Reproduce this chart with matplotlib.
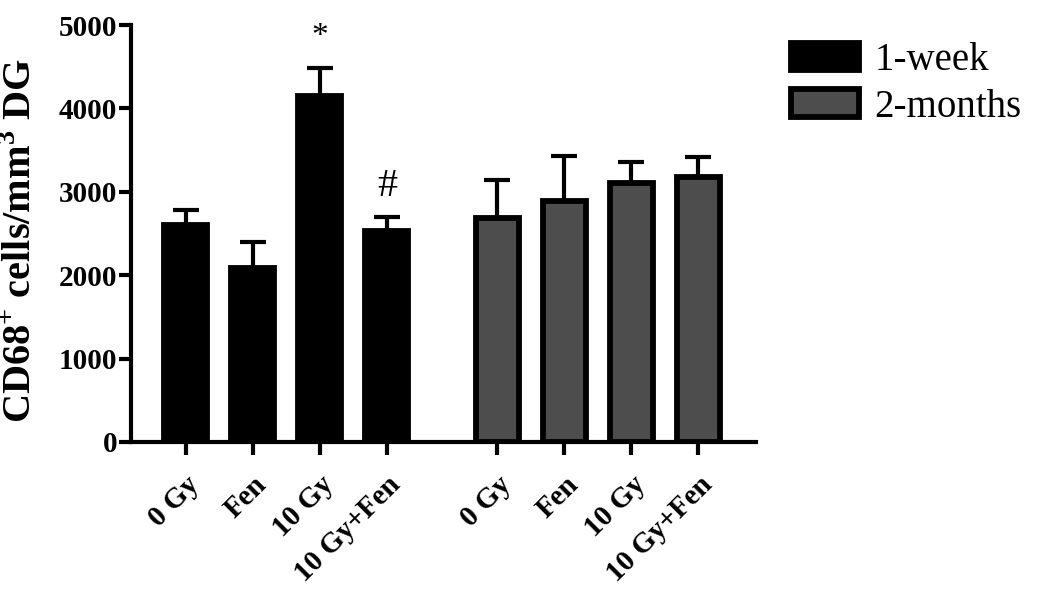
import numpy as np
import matplotlib.pyplot as plt

plt.rcParams['font.family'] = ['Liberation Serif', 'DejaVu Serif']
plt.rcParams['mathtext.fontset'] = 'custom'
plt.rcParams['mathtext.rm'] = 'Liberation Serif'
plt.rcParams['mathtext.bf'] = 'Liberation Serif:bold'

groups = ['0 Gy', 'Fen', '10 Gy', '10 Gy+Fen']
week_mean = [2600, 2090, 4150, 2530]
week_err = [185, 310, 335, 170]
month_mean = [2690, 2890, 3100, 3180]
month_err = [450, 540, 255, 240]
marks = ['', '', '*', '#']
series_names = ['1-week', '2-months']

x1 = np.arange(4)
x2 = x1 + 4.65
w = 0.64

fig = plt.figure(figsize=(10.5, 5.94), dpi=100)
ax = fig.add_axes([131/1050, 1 - 442/594, 625/1050, 417/594])

b1 = ax.bar(x1, week_mean, w, color='black', edgecolor='black', linewidth=4.2,
            label=series_names[0], zorder=3)
b2 = ax.bar(x2, month_mean, w, color='#4d4d4d', edgecolor='black', linewidth=4.2,
            label=series_names[1], zorder=3)
for xs, m, e in [(x1, week_mean, week_err), (x2, month_mean, month_err)]:
    ax.errorbar(xs, m, yerr=[np.zeros(4), e], fmt='none', ecolor='black',
                elinewidth=3, capsize=9.5, capthick=3, zorder=2)

for xi, m, e, s in zip(x1, week_mean, week_err, marks):
    if s == '*':
        ax.text(xi, m + e + 370, s, ha='center', va='center', fontsize=24)
    elif s:
        ax.text(xi, m + e + 360, s, ha='center', va='center', fontsize=29)

ax.set_xlim(-0.82, 8.51)
ax.set_ylim(0, 5000)
ax.set_yticks([0, 1000, 2000, 3000, 4000, 5000])
ax.set_xticks(np.concatenate([x1, x2]))
ax.set_xticklabels(groups + groups, rotation=45, ha='right',
                   rotation_mode='anchor', fontsize=21, fontweight='bold')
for lab in ax.get_yticklabels():
    lab.set_fontsize(21)
    lab.set_fontweight('bold')

for s in ['top', 'right']:
    ax.spines[s].set_visible(False)
for s in ['left', 'bottom']:
    ax.spines[s].set_linewidth(3)
ax.tick_params(axis='both', width=3, length=9, direction='out')
ax.tick_params(axis='x', pad=12)
ax.tick_params(axis='y', pad=1)

ax.set_ylabel(r'CD68$^{\mathbf{+}}$ cells/mm$^{\mathbf{3}}$ DG', fontsize=29,
              fontweight='bold')
ax.yaxis.set_label_coords(-0.145, 0.482)

fig.legend(handles=[b1, b2], loc='upper left', bbox_to_anchor=(791/1050, 1 - 42/594),
           frameon=False, fontsize=28, handlelength=1.75, handleheight=0.72,
           handletextpad=0.4, labelspacing=0.25, borderpad=0, borderaxespad=0)

fig.savefig('out.png', dpi=100)
